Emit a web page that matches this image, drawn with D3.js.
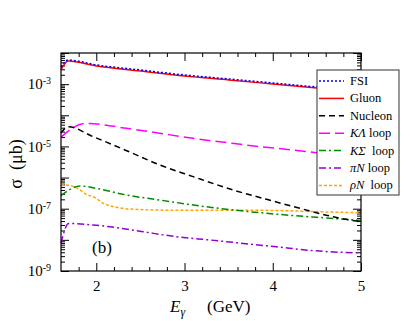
<!DOCTYPE html>
<html>
<head>
<meta charset="utf-8">
<script src="https://cdn.jsdelivr.net/npm/d3@7"></script>
<style>
  body { margin: 0; background: #fff; }
  .axis path { display: none; }
  .axis line { stroke: #000; stroke-width: 1; }
  .curve { fill: none; stroke-width: 1.5; }
</style>
</head>
<body>
<div id="chart"></div>
<script>
// photon energy (GeV) and cross section (microbarn)
var fsiE      = [1.6, 1.68, 2.0, 2.5, 3.0, 3.5, 4.0, 4.5, 5.0];
var fsiSigma  = [3.55e-3, 5.95e-3, 4.15e-3, 2.85e-3, 1.97e-3, 1.47e-3, 1.09e-3, 8.1e-4, 6.2e-4];

var gluonE     = [1.6, 1.68, 2.0, 2.5, 3.0, 3.5, 4.0, 4.5, 5.0];
var gluonSigma = [2.84e-3, 5.5e-3, 3.83e-3, 2.64e-3, 1.82e-3, 1.36e-3, 1.01e-3, 7.5e-4, 5.7e-4];

var nucleonE     = [1.6, 1.683, 1.966, 2.344, 2.721, 3.098, 3.551, 3.93, 4.307, 4.684, 4.949, 5.0];
var nucleonSigma = [2.7e-5, 4.3e-5, 2.05e-5, 7.3e-6, 2.53e-6, 1.07e-6, 3.99e-7, 2.0e-7, 1.03e-7, 5.53e-8, 4.03e-8, 3.9e-8];

var kLambdaE     = [1.6, 1.872, 2.344, 2.72, 3.095, 3.48, 3.854, 4.227, 4.45, 4.986];
var kLambdaSigma = [1.96e-5, 5.52e-5, 3.82e-5, 2.64e-5, 1.82e-5, 1.32e-5, 9.8e-6, 7.7e-6, 6.5e-6, 5.3e-6];

var kSigmaE     = [1.6, 1.82, 2.0, 2.344, 2.72, 3.2, 3.93, 4.5, 4.95, 5.0];
var kSigmaSigma = [2.65e-7, 5.36e-7, 4.5e-7, 2.75e-7, 1.9e-7, 1.2e-7, 7.1e-8, 5.3e-8, 4.3e-8, 4.2e-8];

var piNE     = [1.6, 1.687, 1.966, 2.155, 2.53, 2.91, 3.287, 3.665, 4.04, 4.457, 4.986];
var piNSigma = [7.9e-9, 3.35e-8, 3.0e-8, 2.64e-8, 1.82e-8, 1.26e-8, 9.9e-9, 7.7e-9, 6.0e-9, 4.5e-9, 3.8e-9];

var rhoNE     = [1.6, 1.68, 1.8, 1.9, 1.966, 2.08, 2.23, 2.42, 2.8, 3.5, 4.0, 4.533, 4.986];
var rhoNSigma = [5.77e-7, 5.7e-7, 4.3e-7, 2.76e-7, 2.43e-7, 1.49e-7, 1.11e-7, 9.6e-8, 9.0e-8, 9.0e-8, 8.8e-8, 8.0e-8, 7.4e-8];

var xMajorTicks = [2, 3, 4, 5];
var yDecades = [1e-9, 1e-8, 1e-7, 1e-6, 1e-5, 1e-4, 1e-3, 1e-2];
var yLabelled = [1e-9, 1e-7, 1e-5, 1e-3];

var series = [
    {name: "FSI",     E: fsiE,     s: fsiSigma,     color: "#0000ff", dash: "2,2"},
    {name: "Gluon",   E: gluonE,   s: gluonSigma,   color: "#ff0000", dash: null},
    {name: "Nucleon", E: nucleonE, s: nucleonSigma, color: "#000000", dash: "6,4"},
    {name: "KL",      E: kLambdaE, s: kLambdaSigma, color: "#ff00ff", dash: "11,5"},
    {name: "KS",      E: kSigmaE,  s: kSigmaSigma,  color: "#008c00", dash: "7,3,2,3"},
    {name: "piN",     E: piNE,     s: piNSigma,     color: "#9400d3", dash: "7,3,2,3"},
    {name: "rhoN",    E: rhoNE,    s: rhoNSigma,    color: "#ffa500", dash: "3,2"}
];

var FONT = "Liberation Serif";

var margin = {top: 53, right: 54, bottom: 50, left: 61},
    width = 415 - margin.left - margin.right,
    height = 321 - margin.top - margin.bottom;

var x = d3.scaleLinear().domain([1.6, 5]).range([0, width]);
var y = d3.scaleLog().domain([1e-9, 1e-2]).range([height, 0]);

var root = d3.select("#chart")
    .append("svg")
        .attr("width", 415)
        .attr("height", 321)
        .attr("font-family", FONT);

var svg = root.append("g")
        .attr("transform", "translate(" + margin.left + "," + margin.top + ")");

// minor tick values
var xMinor = d3.range(1.8, 5.0, 0.2).filter(function(v) {
    return Math.abs(v - Math.round(v)) > 0.01;
});
var yMinor = [];
yDecades.slice(0, -1).forEach(function(d) {
    for (var k = 2; k <= 9; k++) yMinor.push(d * k);
});

function fmtNone() { return ""; }

function addAxis(axis, tx, ty) {
    var g = svg.append("g")
        .attr("class", "axis")
        .attr("transform", "translate(" + tx + "," + ty + ")")
        .call(axis);
    g.attr("font-family", FONT);
    return g;
}

// bottom axis
addAxis(d3.axisBottom(x).tickValues(xMajorTicks).tickSize(-8).tickPadding(9)
        .tickFormat(d3.format("d")), 0, height)
    .selectAll("text")
        .attr("font-size", 15);
addAxis(d3.axisBottom(x).tickValues(xMinor).tickSize(-4).tickFormat(fmtNone), 0, height);

// top axis
addAxis(d3.axisTop(x).tickValues(xMajorTicks).tickSize(-8).tickFormat(fmtNone), 0, 0);
addAxis(d3.axisTop(x).tickValues(xMinor).tickSize(-4).tickFormat(fmtNone), 0, 0);

// left axis
var yl = addAxis(d3.axisLeft(y).tickValues(yDecades).tickSize(-8).tickPadding(10)
        .tickFormat(function(d) {
            return yLabelled.indexOf(d) >= 0 ? "10" : "";
        }), 0, 0);
yl.selectAll("text")
    .attr("font-size", 15)
    .each(function(d) {
        if (yLabelled.indexOf(d) < 0) return;
        d3.select(this).append("tspan")
            .attr("dy", "-0.5em")
            .attr("font-size", 10)
            .text(String(Math.round(Math.log10(d))));
    });
addAxis(d3.axisLeft(y).tickValues(yMinor).tickSize(-4).tickFormat(fmtNone), 0, 0);

// right axis
addAxis(d3.axisRight(y).tickValues(yDecades).tickSize(-8).tickFormat(fmtNone), width, 0);
addAxis(d3.axisRight(y).tickValues(yMinor).tickSize(-4).tickFormat(fmtNone), width, 0);

// curves
var line = d3.line()
    .x(function(d) { return x(d[0]); })
    .y(function(d) { return y(d[1]); })
    .curve(d3.curveMonotoneX);

series.slice().reverse().forEach(function(d) {
    svg.append("path")
        .attr("class", "curve")
        .attr("d", line(d3.zip(d.E, d.s)))
        .style("stroke", d.color)
        .style("stroke-dasharray", d.dash);
});

// frame
svg.append("rect")
    .attr("width", width)
    .attr("height", height)
    .style("fill", "none")
    .style("stroke", "#000")
    .style("stroke-width", 1.2);

// panel label
svg.append("text")
    .attr("x", 31)
    .attr("y", 200)
    .attr("font-size", 17)
    .text("(b)");

// axis titles
var xt = svg.append("text")
    .attr("x", 109)
    .attr("y", 259)
    .attr("font-size", 17);
xt.append("tspan").attr("font-style", "italic").text("E");
xt.append("tspan").attr("font-style", "italic").attr("font-size", 12)
    .attr("dy", 4).text("\u03b3");
xt.append("tspan").attr("x", 146).attr("dy", -4).text("(GeV)");

svg.append("text")
    .attr("transform", "translate(-39," + (height / 2 + 2) + ") rotate(-90)")
    .attr("text-anchor", "middle")
    .attr("font-size", 18)
    .text("\u03c3\u00a0\u00a0(\u03bcb)");

// legend
var legend = root.append("g")
    .attr("transform", "translate(317,70)");

legend.append("rect")
    .attr("width", 82)
    .attr("height", 125)
    .style("fill", "#fff")
    .style("stroke", "#333")
    .style("stroke-width", 1);

var labels = [
    [["FSI", false]],
    [["Gluon", false]],
    [["Nucleon", false]],
    [["K\u039b", true], ["\u00a0loop", false]],
    [["K\u03a3", true], ["\u00a0\u00a0loop", false]],
    [["\u03c0N", true], ["\u00a0loop", false]],
    [["\u03c1N", true], ["\u00a0\u00a0loop", false]]
];

series.forEach(function(d, i) {
    var ly = 11 + i * 17.4;
    legend.append("line")
        .attr("x1", 2).attr("x2", 27)
        .attr("y1", ly).attr("y2", ly)
        .style("stroke", d.color)
        .style("stroke-width", 1.5)
        .style("stroke-dasharray", d.dash);
    var t = legend.append("text")
        .attr("x", 33)
        .attr("y", ly + 4)
        .attr("font-size", 12.5);
    labels[i].forEach(function(p) {
        t.append("tspan")
            .attr("font-style", p[1] ? "italic" : "normal")
            .text(p[0]);
    });
});
</script>
</body>
</html>
